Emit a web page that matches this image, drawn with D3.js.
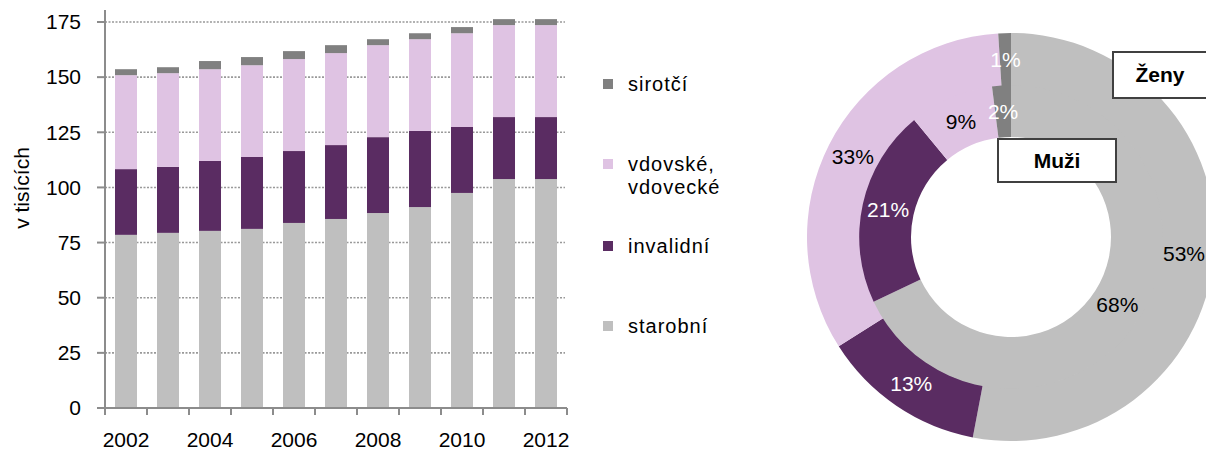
<!DOCTYPE html>
<html>
<head>
<meta charset="utf-8">
<script src="https://cdn.jsdelivr.net/npm/d3@7"></script>
<style>
  body { margin: 0; background: #fff; }
  svg { font-family: "Liberation Sans", Arial, sans-serif; }
</style>
</head>
<body>
<div id="chart"></div>
<script>
// data (thousands)
const years = ["2002","2003","2004","2005","2006","2007","2008","2009","2010","2011","2012"];
const starobni  = [78.5, 79.4, 80.3, 81.2, 83.9, 85.7, 88.4, 91.1, 97.5, 103.8, 103.8];
const invalidni = [29.8, 29.9, 31.7, 32.6, 32.6, 33.5, 34.4, 34.5, 29.9, 28.1, 28.1];
const vdovske   = [42.6, 42.5, 41.6, 41.6, 41.7, 41.7, 41.7, 41.6, 42.5, 41.7, 41.7];
const sirotci   = [2.7, 2.7, 3.7, 3.7, 3.6, 3.6, 2.7, 2.7, 2.8, 2.7, 2.7];
const yTicks = [0, 25, 50, 75, 100, 125, 150, 175];
const yearLabels = ["2002","2004","2006","2008","2010","2012"];

// series order from the bottom up
const seriesKeys = ["starobni", "invalidni", "vdovske", "sirotci"];
const seriesNames = {starobni: "starobní", invalidni: "invalidní", vdovske: "vdovské, vdovecké", sirotci: "sirotčí"};
const colors = {starobni: "#bfbfbf", invalidni: "#5a2c62", vdovske: "#dfc3e3", sirotci: "#808080"};

// donut shares (%), inner ring = muži, outer ring = ženy
const muzi = [68, 21, 9, 2];
const zeny = [53, 13, 33, 1];

const W = 1206, H = 450;
const fs = 21;
const svg = d3.select("#chart").append("svg").attr("width", W).attr("height", H);

// ---- stacked bars
const rows = years.map((y, i) => ({year: y, starobni: starobni[i], invalidni: invalidni[i], vdovske: vdovske[i], sirotci: sirotci[i]}));
const stacked = d3.stack().keys(seriesKeys)(rows);

const x = d3.scaleBand().domain(years).range([105, 567]).paddingInner(0.476).paddingOuter(0.238);
const y = d3.scaleLinear().domain([0, 175]).range([408, 22]);

// grid lines
svg.append("g").selectAll("line")
  .data(yTicks.filter(d => d > 0))
  .join("line")
  .attr("x1", 105).attr("x2", 565)
  .attr("y1", d => y(d)).attr("y2", d => y(d))
  .attr("stroke", "#999").attr("stroke-width", 1.6).attr("stroke-dasharray", "2,1.5");

svg.append("g").selectAll("g")
  .data(stacked)
  .join("g")
  .attr("fill", d => colors[d.key])
  .selectAll("rect")
  .data(d => d)
  .join("rect")
  .attr("x", d => x(d.data.year))
  .attr("width", x.bandwidth())
  .attr("y", d => y(d[1]))
  .attr("height", d => y(d[0]) - y(d[1]));

// y axis
const axisColor = "#8c8c8c";
svg.append("line").attr("x1", 105).attr("x2", 105).attr("y1", 10).attr("y2", y(0))
  .attr("stroke", axisColor).attr("stroke-width", 2);
svg.append("g").selectAll("line")
  .data(yTicks)
  .join("line")
  .attr("x1", 97).attr("x2", 105)
  .attr("y1", d => y(d)).attr("y2", d => y(d))
  .attr("stroke", axisColor).attr("stroke-width", 2);
svg.append("g").selectAll("text")
  .data(yTicks)
  .join("text")
  .attr("x", 81).attr("y", d => y(d))
  .attr("dy", "0.35em")
  .attr("text-anchor", "end")
  .attr("font-size", fs)
  .attr("fill", "#000")
  .text(d => d);

// x axis
svg.append("line").attr("x1", 104).attr("x2", 567).attr("y1", y(0)).attr("y2", y(0))
  .attr("stroke", axisColor).attr("stroke-width", 2);
const bounds = d3.range(years.length + 1).map(i => x.range()[0] + i * x.step());
svg.append("g").selectAll("line")
  .data(bounds)
  .join("line")
  .attr("x1", d => d).attr("x2", d => d)
  .attr("y1", y(0)).attr("y2", y(0) + 7)
  .attr("stroke", axisColor).attr("stroke-width", 2);
svg.append("g").selectAll("text")
  .data(yearLabels)
  .join("text")
  .attr("x", d => x(d) + x.bandwidth() / 2)
  .attr("y", 440)
  .attr("dy", "0.35em")
  .attr("text-anchor", "middle")
  .attr("font-size", fs)
  .text(d => d);

// y title
svg.append("text")
  .attr("transform", "translate(22,188) rotate(-90)")
  .attr("dy", "0.35em")
  .attr("text-anchor", "middle")
  .attr("font-size", fs)
  .text("v tisících");

// ---- legend
const legendY = {sirotci: 84, vdovske: 164, invalidni: 246, starobni: 326};
const legend = svg.append("g").selectAll("g")
  .data(seriesKeys)
  .join("g")
  .attr("transform", d => `translate(603,${legendY[d]})`);
legend.append("rect").attr("x", 0).attr("y", -5).attr("width", 10).attr("height", 10)
  .attr("fill", d => colors[d]);
legend.append("text")
  .attr("x", 25)
  .attr("font-size", 20)
  .attr("letter-spacing", 1)
  .selectAll("tspan")
  .data(d => seriesNames[d].includes(", ") ? seriesNames[d].replace(", ", ",|").split("|") : [seriesNames[d]])
  .join("tspan")
  .attr("x", 25)
  .attr("y", (d, i) => i * 23)
  .attr("dy", "0.35em")
  .text(d => d);

// ---- donut
const cx = 1011, cy = 237;
const pie = d3.pie().sort(null).value(d => d);
// outer ring drawn first, inner ring overlaps it by half a pixel to hide the seam
const rings = [
  {name: "zeny", values: zeny, r0: 151, r1: 204},
  {name: "muzi", values: muzi, r0: 100, r1: 151.8}
];
const labelColor = {starobni: "#000", invalidni: "#fff", vdovske: "#000", sirotci: "#fff"};
const donut = svg.append("g").attr("transform", `translate(${cx},${cy})`);
const labelLayer = [];
rings.forEach(ring => {
  const arc = d3.arc().innerRadius(ring.r0).outerRadius(ring.r1);
  const arcs = pie(ring.values);
  donut.append("g").selectAll("path")
    .data(arcs)
    .join("path")
    .attr("d", arc)
    .attr("fill", (d, i) => colors[seriesKeys[i]]);
  labelLayer.push({arc, arcs});
});
// keep labels inside the page (the outer ring runs past the right edge)
const maxX = W - cx - 22;
labelLayer.forEach(({arc, arcs}) => {
  donut.append("g").selectAll("text")
    .data(arcs)
    .join("text")
    .attr("transform", d => {
      const [px, py] = arc.centroid(d);
      return `translate(${Math.min(px, maxX)},${py})`;
    })
    .attr("dy", "0.35em")
    .attr("text-anchor", "middle")
    .attr("font-size", fs)
    .attr("fill", (d, i) => labelColor[seriesKeys[i]])
    .text(d => d.data + "%");
});

// ring name boxes
const boxes = [
  {text: "Ženy", x: 1113, y: 52, w: 100, h: 46},
  {text: "Muži", x: 998, y: 139, w: 118, h: 43}
];
const box = svg.append("g").selectAll("g").data(boxes).join("g");
box.append("rect")
  .attr("x", d => d.x).attr("y", d => d.y).attr("width", d => d.w).attr("height", d => d.h)
  .attr("fill", "#fff").attr("stroke", "#404040").attr("stroke-width", 2);
box.append("text")
  .attr("x", d => d.text === "Ženy" ? d.x + 47 : d.x + d.w / 2)
  .attr("y", d => d.y + d.h / 2)
  .attr("dy", "0.35em")
  .attr("text-anchor", "middle")
  .attr("font-size", 21)
  .attr("font-weight", "bold")
  .text(d => d.text);
</script>
</body>
</html>
